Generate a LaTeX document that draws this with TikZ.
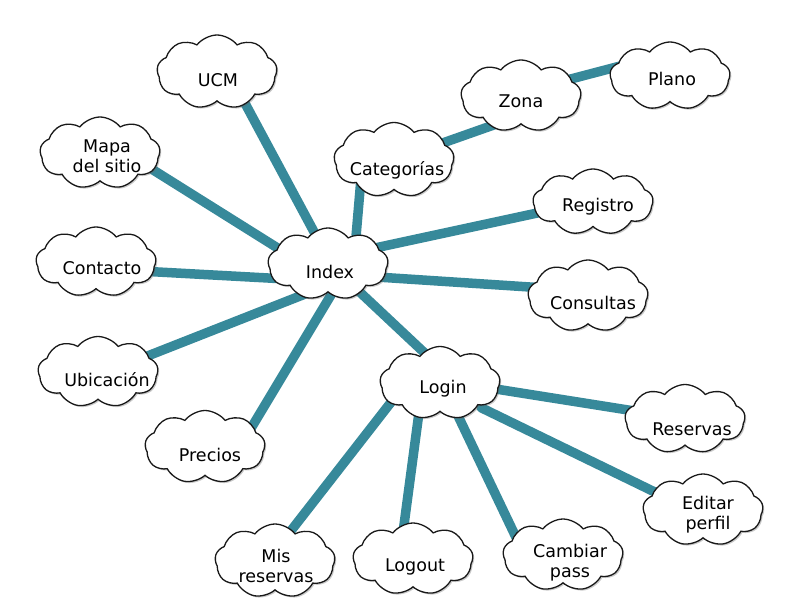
\documentclass[tikz,border=0pt]{standalone}
\usepackage{fontspec}
\setmainfont{DejaVu Sans}
\usetikzlibrary{shapes.symbols,shadows,backgrounds,calc}
\definecolor{linkteal}{HTML}{37899A}
\tikzset{
  cloudbox/.style={cloud, cloud puffs=9, cloud puff arc=105, cloud ignores aspect,
    minimum width=120pt, minimum height=70pt, inner sep=0pt, draw=black!90, line width=1.3pt,
    fill=white,
    drop shadow={shadow xshift=1.5pt, shadow yshift=-1.5pt, opacity=0.35, fill=black!60}},
  txt/.style={align=center, inner sep=0pt, text=black, font=\fontsize{17.5}{20}\selectfont},
  link/.style={draw=linkteal, line width=9.5pt, line cap=round}
}
% #1 name, #2 centre, #3 text, #4 height, #5 #6 text offset (right, down)
\newcommand{\cloudat}[6]{\node[cloudbox, minimum height=#4pt,
  label={[txt, name=#1t, xshift=#5pt, yshift=-#6pt]center:{#3}}] (#1) at #2 {};}
% #1 node A, #2 offset on A, #3 node B, #4 offset on B
\newcommand{\linkab}[4]{\draw[link]
  ($([shift={#2}]#1.center)!-10pt!([shift={#4}]#3.center)$) --
  ($([shift={#4}]#3.center)!-10pt!([shift={#2}]#1.center)$);}
\begin{document}
\begin{tikzpicture}[x=1pt,y=-1pt]
\useasboundingbox (0,0) rectangle (809,607);
\cloudat{ucm}{(217,72)}{UCM}{74}{1}{8}
\cloudat{mapa}{(100,153)}{Mapa\\del sitio}{72}{7}{3}
\cloudat{contacto}{(96,262)}{Contacto}{70}{6}{6}
\cloudat{ubic}{(98,372)}{Ubicación}{71}{9}{8}
\cloudat{precios}{(205,447)}{Precios}{73}{5}{8}
\cloudat{index}{(328,264)}{Index}{72}{2}{8}
\cloudat{cat}{(394,160)}{Categorías}{75}{3}{10}
\cloudat{zona}{(521,96)}{Zona}{72}{0}{5}
\cloudat{plano}{(670,76)}{Plano}{68}{2}{3}
\cloudat{registro}{(593,202)}{Registro}{66}{5}{5}
\cloudat{consultas}{(588,296)}{Consultas}{72}{5}{7}
\cloudat{login}{(440,383)}{Login}{73}{3}{6}
\cloudat{reservas}{(685,419)}{Reservas}{69}{7}{10}
\cloudat{editar}{(703,510)}{Editar\\perfil}{72}{5}{5}
\cloudat{mis}{(275,561)}{Mis\\reservas}{74}{1}{5}
\cloudat{logout}{(413,559)}{Logout}{72}{2}{8}
\cloudat{cambiar}{(563,555)}{Cambiar\\pass}{72}{7}{8}
\begin{scope}[on background layer]
\linkab{ucm}{(30,35)}{index}{(-8,-21)}
\linkab{mapa}{(58,20)}{index}{(-36,-7)}
\linkab{contacto}{(62,10)}{index}{(-60,14)}
\linkab{ubic}{(47,-15)}{index}{(-33,34)}
\linkab{precios}{(45,-17)}{index}{(0,36)}
\linkab{cat}{(-34,30)}{index}{(29,-39)}
\linkab{cat}{(43,-15)}{zona}{(-33,31)}
\linkab{zona}{(46,-16)}{plano}{(-42,-12)}
\linkab{index}{(47,-16)}{registro}{(-65,13)}
\linkab{index}{(64,14)}{consultas}{(-43,-8)}
\linkab{index}{(37,33)}{login}{(-10,-25)}
\linkab{login}{(62,7)}{reservas}{(-38,-6)}
\linkab{login}{(50,29)}{editar}{(-38,-13)}
\linkab{login}{(-55,27)}{mis}{(22,-38)}
\linkab{login}{(-22,37)}{logout}{(-11,-19)}
\linkab{login}{(20,37)}{cambiar}{(-40,-3)}
\end{scope}
\end{tikzpicture}
\end{document}
